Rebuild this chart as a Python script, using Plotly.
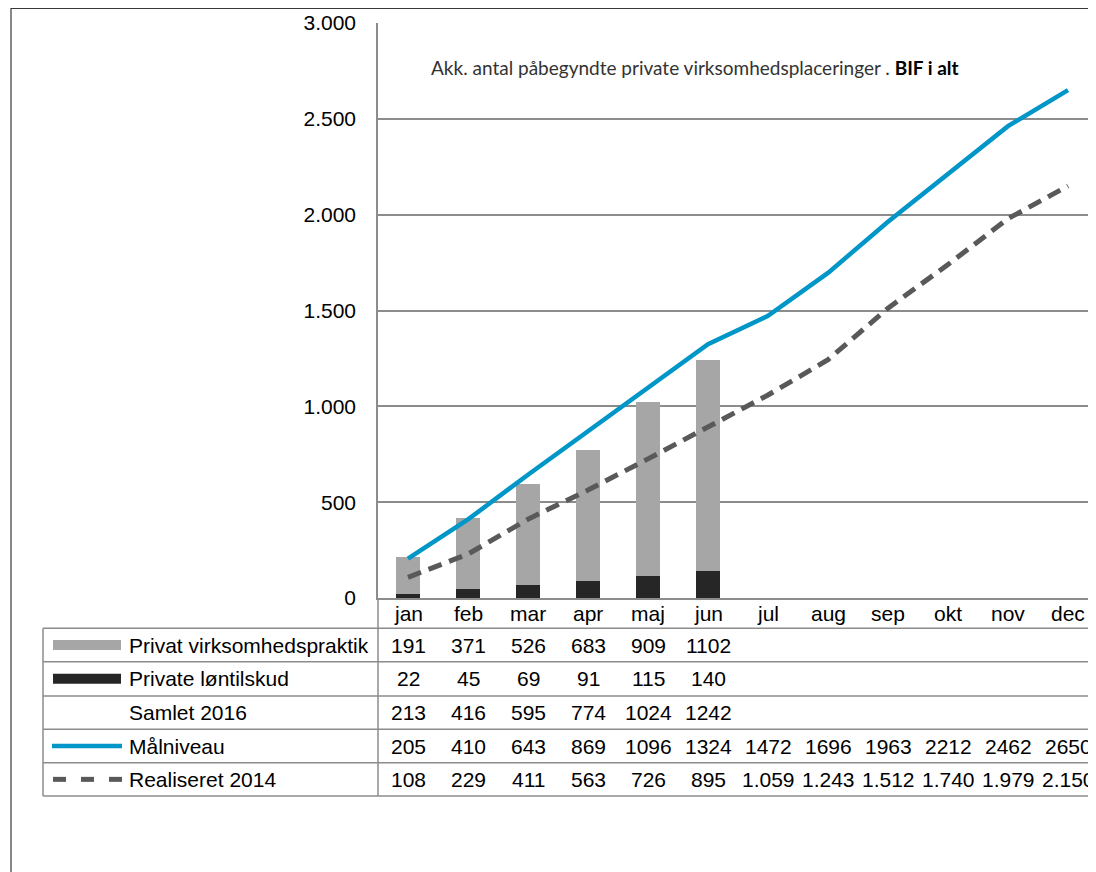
import plotly.graph_objects as go

months = ["jan", "feb", "mar", "apr", "maj", "jun", "jul", "aug", "sep", "okt", "nov", "dec"]
privat_virksomhedspraktik = [191, 371, 526, 683, 909, 1102]
private_lontilskud = [22, 45, 69, 91, 115, 140]
samlet_2016 = [213, 416, 595, 774, 1024, 1242]
malniveau = [205, 410, 643, 869, 1096, 1324, 1472, 1696, 1963, 2212, 2462, 2650]
realiseret_2014 = [108, 229, 411, 563, 726, 895, 1059, 1243, 1512, 1740, 1979, 2150]

y_tickvals = [0, 500, 1000, 1500, 2000, 2500, 3000]
y_ticktext = ["0", "500", "1.000", "1.500", "2.000", "2.500", "3.000"]

row_labels = ["Privat virksomhedspraktik", "Private løntilskud", "Samlet 2016", "Målniveau", "Realiseret 2014"]

OFF = 8  # page body margin
W, H = 1096 - OFF, 872 - OFF
L, T, B = 378 - OFF, 23 - OFF, 598 - OFF
PW = W - L
PH = B - T
COLW = 60.0

def px(x):
    return (x - OFF - L) / PW

def py(y):
    return (B - (y - OFF)) / PH

GRAY_BAR = "#a6a6a6"
DARK_BAR = "#262626"
BLUE = "#0096c8"
DASH = "#595959"
GRID = "#8c8c8c"
FONT = "Liberation Sans, Arial, sans-serif"
FS = 21

fig = go.Figure()
fig.add_trace(go.Bar(x=list(range(len(private_lontilskud))), y=private_lontilskud,
                     marker=dict(color=DARK_BAR, line=dict(width=0)), width=0.4, name=row_labels[1]))
fig.add_trace(go.Bar(x=list(range(len(privat_virksomhedspraktik))), y=privat_virksomhedspraktik,
                     marker=dict(color=GRAY_BAR, line=dict(width=0)), width=0.4, name=row_labels[0]))
fig.add_trace(go.Scatter(x=list(range(12)), y=malniveau, mode="lines",
                         line=dict(color=BLUE, width=4.5), name=row_labels[3]))
fig.add_trace(go.Scatter(x=list(range(12)), y=realiseret_2014, mode="lines",
                         line=dict(color=DASH, width=5, dash="14px,8px"), name=row_labels[4]))

shapes = []
annotations = []

# table horizontal lines
row_lines = [628.3, 661.7, 696, 729.3, 762.7, 796]
for yl in row_lines:
    shapes.append(dict(type="line", xref="paper", yref="paper", x0=px(43), x1=1.05, y0=py(yl), y1=py(yl),
                       line=dict(color=GRID, width=1.5), layer="above"))
# vertical lines
shapes.append(dict(type="line", xref="paper", yref="paper", x0=0, x1=0, y0=py(598), y1=py(796),
                   line=dict(color=GRID, width=1.5)))
shapes.append(dict(type="line", xref="paper", yref="paper", x0=px(43), x1=px(43), y0=py(628.3), y1=py(796),
                   line=dict(color=GRID, width=1.5)))
# outer chart border
shapes.append(dict(type="rect", xref="paper", yref="paper", x0=px(11), x1=px(1200), y0=py(8.5), y1=py(1000),
                   line=dict(color="#3a3a3a", width=1.2), fillcolor="rgba(0,0,0,0)"))

# legend keys
row_centers = [(row_lines[i] + row_lines[i + 1]) / 2 for i in range(5)]
shapes.append(dict(type="rect", xref="paper", yref="paper", x0=px(53), x1=px(121),
                   y0=py(row_centers[0] - 5), y1=py(row_centers[0] + 5), fillcolor=GRAY_BAR, line=dict(width=0)))
shapes.append(dict(type="rect", xref="paper", yref="paper", x0=px(53), x1=px(121),
                   y0=py(row_centers[1] - 5), y1=py(row_centers[1] + 5), fillcolor=DARK_BAR, line=dict(width=0)))
shapes.append(dict(type="line", xref="paper", yref="paper", x0=px(52), x1=px(122),
                   y0=py(row_centers[3]), y1=py(row_centers[3]), line=dict(color=BLUE, width=4.5)))
for d0 in [52, 80, 108]:
    shapes.append(dict(type="line", xref="paper", yref="paper", x0=px(d0 + 1), x1=px(d0 + 14),
                       y0=py(row_centers[4]), y1=py(row_centers[4]), line=dict(color=DASH, width=5)))

for i, lab in enumerate(row_labels):
    annotations.append(dict(x=px(127), y=py(row_centers[i]), xref="paper", yref="paper", text=lab,
                            showarrow=False, xanchor="left", yanchor="middle",
                            font=dict(family=FONT, size=FS, color="#000000")))

# category labels
for i, m in enumerate(months):
    annotations.append(dict(x=i, y=py(613), xref="x", yref="paper", text=m, showarrow=False,
                            xanchor="center", yanchor="middle", font=dict(family=FONT, size=FS, color="#000000")))

def fmt_plain(v):
    return str(v)

def fmt_dot(v):
    return f"{v:,}".replace(",", ".")

table_rows = [
    (privat_virksomhedspraktik, fmt_plain),
    (private_lontilskud, fmt_plain),
    (samlet_2016, fmt_plain),
    (malniveau, fmt_plain),
    (realiseret_2014, fmt_dot),
]
for r, (vals, f) in enumerate(table_rows):
    for i, v in enumerate(vals):
        annotations.append(dict(x=i, y=py(row_centers[r]), xref="x", yref="paper", text=f(v), showarrow=False,
                                xanchor="center", yanchor="middle",
                                font=dict(family=FONT, size=FS, color="#000000")))

# title inside plot
annotations.append(dict(x=px(429), y=py(68), xref="paper", yref="paper",
                        text="<span style='color:#333333'>Akk. antal påbegyndte private virksomhedsplaceringer . </span><b>BIF i alt</b>",
                        showarrow=False, xanchor="left", yanchor="middle",
                        font=dict(family="Lato, Open Sans, sans-serif", size=19, color="#000000")))

fig.update_layout(
    width=W, height=H,
    margin=dict(l=L, r=0, t=T, b=H - B, pad=0),
    paper_bgcolor="white", plot_bgcolor="white",
    barmode="stack", showlegend=False,
    shapes=shapes, annotations=annotations,
    xaxis=dict(range=[-0.5, -0.5 + PW / COLW], showticklabels=False, ticks="", showgrid=False,
               zeroline=False, showline=True, linecolor=GRID, linewidth=1.5, fixedrange=True),
    yaxis=dict(range=[0, 3000], tickvals=y_tickvals, ticktext=y_ticktext, showgrid=True, gridcolor=GRID,
               gridwidth=1.5, zeroline=False, showline=True, linecolor=GRID, linewidth=1.5, ticks="",
               ticklabelstandoff=16, tickfont=dict(family=FONT, size=FS, color="#000000")),
)

fig.write_html("out.html")
